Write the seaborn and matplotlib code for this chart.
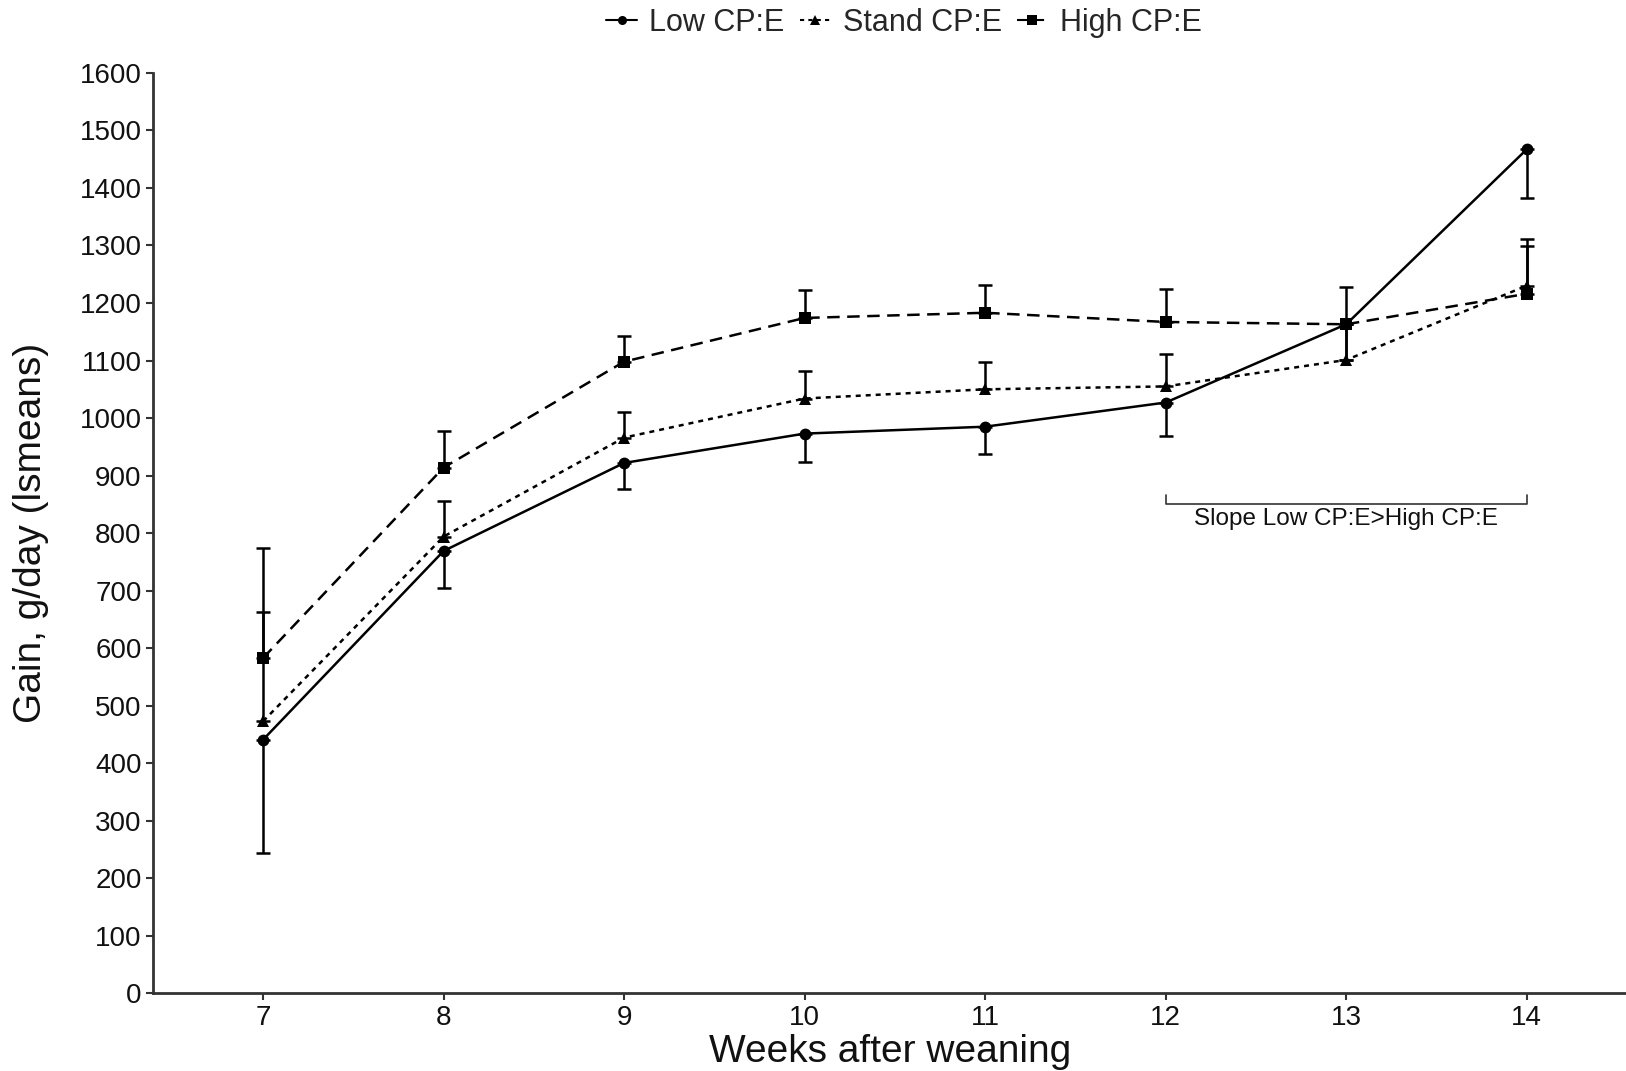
import matplotlib
matplotlib.use("Agg")
import matplotlib.pyplot as plt
import seaborn as sns
import pandas as pd
import numpy as np

weeks = [7, 8, 9, 10, 11, 12, 13, 14]
low = [441, 769, 922, 973, 985, 1027, 1163, 1467]
low_se = [197, 64, 45, 49, 48, 58, 62, 84]
stand = [473, 794, 966, 1034, 1050, 1055, 1101, 1230]
stand_se = [190, 62, 44, 48, 47, 57, 62, 82]
high = [583, 914, 1098, 1174, 1183, 1167, 1163, 1216]
high_se = [192, 63, 45, 48, 48, 57, 64, 83]
groups = ["Low CP:E", "Stand CP:E", "High CP:E"]

sns.set_theme(style="ticks")
plt.rcParams['font.family'] = ['Liberation Sans', 'DejaVu Sans']

df = pd.DataFrame({
    "week": weeks * 3,
    "gain": low + stand + high,
    "group": [groups[0]] * 8 + [groups[1]] * 8 + [groups[2]] * 8,
})

fig = plt.figure(figsize=(16.26, 10.71), dpi=100)
ax = fig.add_axes([0.0944, 0.0724, 0.9056, 0.8596])

dashes = {groups[0]: "", groups[1]: (2, 2), groups[2]: (5, 3)}
markers = {groups[0]: "o", groups[1]: "^", groups[2]: "s"}
sns.lineplot(data=df, x="week", y="gain", hue="group", style="group",
             palette=["black"] * 3, dashes=dashes, markers=markers,
             markersize=8.5, linewidth=1.8, markeredgewidth=0, ax=ax,
             legend=True)

w = np.array(weeks)
ax.errorbar(w, low, yerr=[low_se, [0] * 8], fmt="none", ecolor="black",
            elinewidth=1.8, capsize=5, capthick=1.8)
ax.errorbar(w, stand, yerr=[[0] * 8, stand_se], fmt="none", ecolor="black",
            elinewidth=1.8, capsize=5, capthick=1.8)
ax.errorbar(w, high, yerr=[[0] * 8, high_se], fmt="none", ecolor="black",
            elinewidth=1.8, capsize=5, capthick=1.8)

# bracket annotation
ax.plot([12, 12, 14, 14], [866, 851, 851, 866], color="#333333", lw=1.2)
ax.text(13, 824, "Slope Low CP:E>High CP:E", ha="center", va="center",
        fontsize=17.5, color="#111111")

ax.set_xlim(6.393, 14.55)
ax.set_ylim(0, 1600)
ax.set_xticks(weeks)
ax.set_yticks(range(0, 1601, 100))
ax.tick_params(axis="both", labelsize=20, length=5, width=1.5,
               color="#333333", labelcolor="#111111")
for s in ["left", "bottom"]:
    ax.spines[s].set_linewidth(2)
    ax.spines[s].set_color("#333333")
sns.despine(ax=ax)
ax.set_xlabel("Weeks after weaning", fontsize=28, color="#111111", labelpad=2)
ax.set_ylabel("Gain, g/day (lsmeans)", fontsize=28, color="#111111", labelpad=22)

leg = ax.legend(loc="center", bbox_to_anchor=(0.5097, 1.0543), ncol=3,
                frameon=False, fontsize=22, handlelength=1.0,
                handletextpad=0.4, columnspacing=0.5,
                bbox_transform=ax.transAxes)
for line in leg.get_lines():
    line.set_linewidth(1.5)
    line.set_markersize(6.5)

fig.savefig("out.png", dpi=100)
